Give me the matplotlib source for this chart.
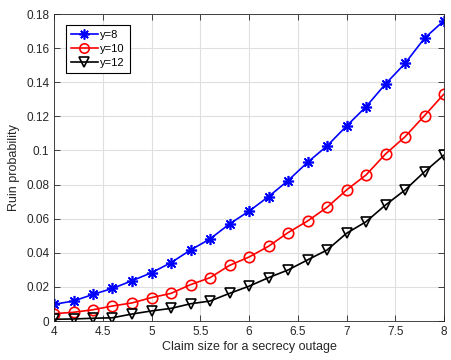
import matplotlib.pyplot as plt
import numpy as np

# データ
x = np.round(np.arange(4.0, 8.01, 0.2), 1)
y8 = [0.0098, 0.0117, 0.0156, 0.0191, 0.0236, 0.0283, 0.0342, 0.0416, 0.0481, 0.0569, 0.0644,
      0.0729, 0.0823, 0.0930, 0.1026, 0.1143, 0.1256, 0.1390, 0.1510, 0.1658, 0.1761]
y10 = [0.0043, 0.0051, 0.0066, 0.0088, 0.0106, 0.0137, 0.0162, 0.0213, 0.0254, 0.0326, 0.0375,
       0.0438, 0.0518, 0.0586, 0.0666, 0.0768, 0.0856, 0.0979, 0.1080, 0.1204, 0.1331]
y12 = [0.0010, 0.0012, 0.0016, 0.0019, 0.0041, 0.0059, 0.0074, 0.0101, 0.0117, 0.0162, 0.0204,
       0.0254, 0.0299, 0.0358, 0.0416, 0.0514, 0.0582, 0.0680, 0.0768, 0.0875, 0.0973]
labels = ["y=8", "y=10", "y=12"]

# グラフ設定
plt.rcParams["font.family"] = "Liberation Sans"
plt.rcParams["xtick.direction"] = "in"
plt.rcParams["ytick.direction"] = "in"

fig = plt.figure(figsize=(4.51, 3.6), dpi=100)
ax = fig.add_axes([54 / 451, 1 - 321 / 360, 390 / 451, 307 / 360])

# MATLAB風のアスタリスク
asterisk = (8, 2, 0)
ax.plot(x, y8, "b-", marker=asterisk, lw=1.2, ms=8, mew=1.2, label=labels[0])
ax.plot(x, y10, "r-o", lw=1.2, ms=7.5, mfc="none", mew=1.2, label=labels[1])
ax.plot(x, y12, "k-v", lw=1.2, ms=7.5, mfc="none", mew=1.2, label=labels[2])

ax.set_xlim(4, 8)
ax.set_ylim(0, 0.18)
ax.set_xticks(np.arange(4, 8.01, 0.5))
ax.set_xticklabels(["4", "4.5", "5", "5.5", "6", "6.5", "7", "7.5", "8"])
ax.set_yticks(np.arange(0, 0.181, 0.02))
ax.set_yticklabels(["0", "0.02", "0.04", "0.06", "0.08", "0.1", "0.12", "0.14", "0.16", "0.18"])
ax.tick_params(labelsize=8.5, colors="#262626", top=True, right=True, length=4, width=0.6)
for s in ax.spines.values():
    s.set_color("#262626")
    s.set_linewidth(0.6)
ax.grid(True, color="#dfdfdf", lw=0.8)
ax.set_axisbelow(True)

ax.set_xlabel("Claim size for a secrecy outage", fontsize=9, color="#262626", labelpad=2)
ax.set_ylabel("Ruin probability", fontsize=9, color="#262626", labelpad=4)

leg = ax.legend(loc="upper left", fontsize=8, fancybox=False, edgecolor="black",
                framealpha=1, handlelength=2.4, handletextpad=0.2, borderpad=0.45,
                labelspacing=0.35, markerscale=0.9, borderaxespad=0,
                bbox_to_anchor=(12 / 390, 1 - 11 / 307))
leg.get_frame().set_linewidth(0.8)

fig.savefig("out.png", dpi=100)
